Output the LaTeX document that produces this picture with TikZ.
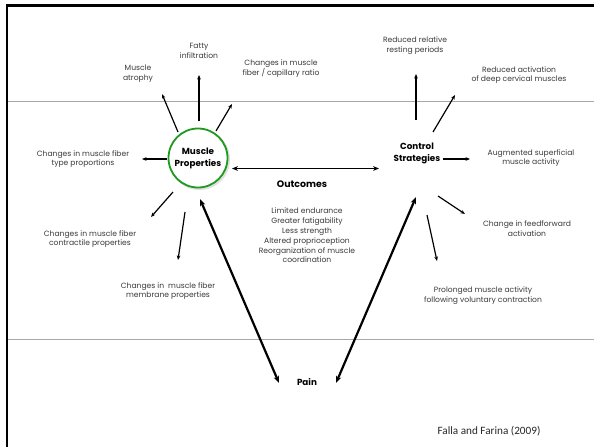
\documentclass[tikz,border=0pt]{standalone}
\usepackage{fontspec}
\setmainfont{Poppins}
\newfontfamily\citefont{Carlito}
\usetikzlibrary{arrows.meta}
\definecolor{labelgray}{HTML}{3A3A3A}
\definecolor{rulegray}{HTML}{A8A8A8}
\definecolor{ringgreen}{HTML}{1E9A1E}
\begin{document}
\begin{tikzpicture}[x=1pt,y=-1pt,
  lbl/.style={align=center,text=labelgray,font=\fontsize{7.6}{9.8}\selectfont,inner sep=0pt},
  head/.style={align=center,font=\bfseries\fontsize{8.8}{12}\selectfont,inner sep=0pt},
  spoke/.style={-{Stealth[length=4.5pt,width=3.6pt]},line width=1.2pt},
  link/.style={{Stealth[length=6pt,width=4.8pt]}-{Stealth[length=6pt,width=4.8pt]},line width=1.8pt},
  painlink/.style={{Stealth[length=7pt,width=5.4pt]}-{Stealth[length=7pt,width=5.4pt]},line width=2.2pt}]
\useasboundingbox (0,0) rectangle (594,447);
\fill[white] (0,0) rectangle (594,447);

% frame and horizontal rules
\draw[line width=2.6pt] (7,447) -- (7,5.5) -- (594,5.5);
\draw[rulegray,line width=0.9pt] (8,101) -- (594,101);
\draw[rulegray,line width=0.9pt] (8,339) -- (594,339);

% central nodes
\fill[black!12] (199.5,159.5) circle (30.5pt);
\node[circle,draw=ringgreen,line width=1.8pt,fill=white,minimum size=59pt,inner sep=0pt] (mp) at (198,158) {};
\node[head] (mptext) at (198,158) {Muscle\\Properties};
\node[head] (cs) at (417,153) {Control\\Strategies};
\node[head,font=\bfseries\fontsize{9.4}{11}\selectfont] (out) at (302,184) {Outcomes};
\node[lbl] (outlist) at (307,235.5) {Limited endurance\\Greater fatigability\\Less strength\\Altered proprioception\\Reorganization of muscle\\coordination};
\node[head] (pain) at (307,382) {Pain};
\node[font=\citefont\fontsize{11.2}{13}\selectfont,text=black!85,inner sep=0pt] (cite) at (489,431) {Falla and Farina (2009)};

% muscle property labels
\node[lbl] (atrophy) at (138,74) {Muscle\\atrophy};
\node[lbl] (fatty) at (199,51) {Fatty\\infiltration};
\node[lbl] (capil) at (281,68.5) {Changes in muscle\\fiber / capillary ratio};
\node[lbl] (ftype) at (83,159) {Changes in muscle fiber\\type proportions};
\node[lbl] (contr) at (90,239) {Changes in muscle fiber\\contractile properties};
\node[lbl] (membr) at (168,291) {Changes in\ \ muscle fiber\\membrane properties};

% control strategy labels
\node[lbl] (rest) at (415,46) {Reduced relative\\resting periods};
\node[lbl] (deep) at (519,75) {Reduced activation\\of deep cervical muscles};
\node[lbl] (superf) at (531,158) {Augmented superficial\\muscle activity};
\node[lbl] (ffwd) at (527,229) {Change in feedforward\\activation};
\node[lbl] (prolong) at (483,295.5) {Prolonged muscle activity\\following voluntary contraction};

% spoke end points
\coordinate (mpA1) at (178,132); \coordinate (mpA2) at (162,94);
\coordinate (mpF1) at (199,121); \coordinate (mpF2) at (199,75);
\coordinate (mpC1) at (216,131); \coordinate (mpC2) at (232,104);
\coordinate (mpT1) at (167,159); \coordinate (mpT2) at (142,159);
\coordinate (mpK1) at (173,192); \coordinate (mpK2) at (151,217);
\coordinate (mpM1) at (185,212); \coordinate (mpM2) at (178,260);
\coordinate (csR1) at (416,120); \coordinate (csR2) at (416,74);
\coordinate (csD1) at (433,132); \coordinate (csD2) at (455,95);
\coordinate (csS1) at (443,159); \coordinate (csS2) at (470,159);
\coordinate (csF1) at (438,196); \coordinate (csF2) at (465,214);
\coordinate (csP1) at (427,215); \coordinate (csP2) at (437,261);

\foreach \a in {mpA,mpF,mpC,mpT,mpK,mpM,csR,csD,csS,csF,csP}
  \draw[spoke] (\a1) -- (\a2);

% links between the two groups and pain
\coordinate (linkL) at (232,168.5); \coordinate (linkR) at (379,168.5);
\draw[link] (linkL) -- (linkR);
\coordinate (mpLow) at (200,199); \coordinate (painL) at (279,383);
\coordinate (csLow) at (416,197); \coordinate (painR) at (336,383);
\draw[painlink] (mpLow) -- (painL);
\draw[painlink] (csLow) -- (painR);
\end{tikzpicture}
\end{document}
